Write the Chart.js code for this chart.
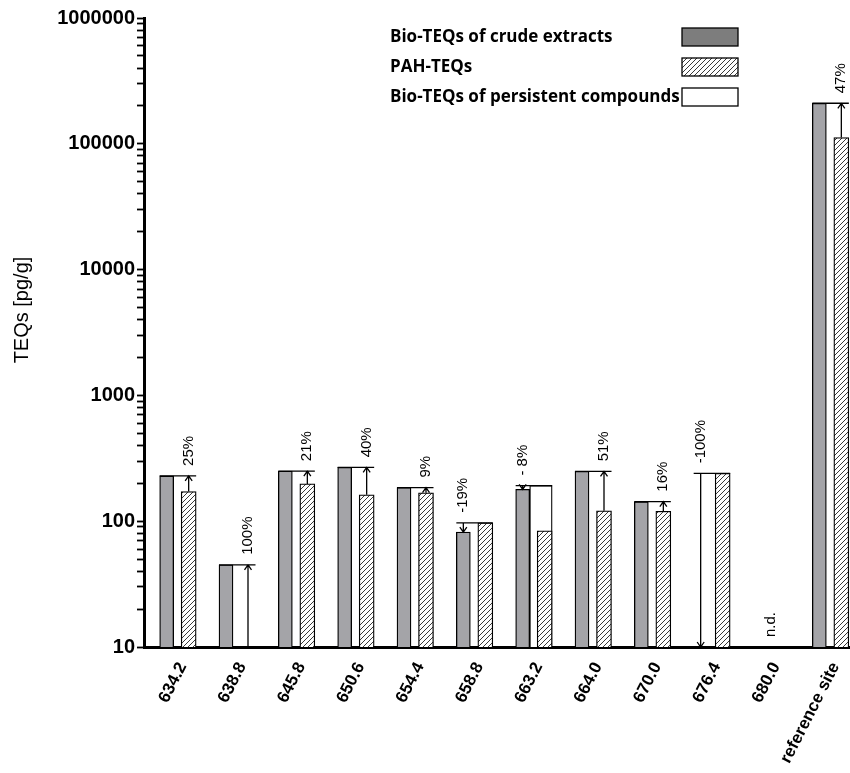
<!DOCTYPE html>
<html>
<head>
<meta charset="utf-8">
<script src="https://cdn.jsdelivr.net/npm/chart.js@4.4.1/dist/chart.umd.min.js"></script>
<style>
  html, body { margin: 0; padding: 0; background: #fff; overflow: hidden; }
  #wrap { width: 856px; height: 773px; }
</style>
</head>
<body>
<div id="wrap"><canvas id="teqChart" width="856" height="773"></canvas></div>
<script>
// sampling sites (river km) and the reference site
const sites = ["634.2", "638.8", "645.8", "650.6", "654.4", "658.8", "663.2", "664.0", "670.0", "676.4", "680.0", "reference site"];
// TEQs in pg/g
const crudeTEQs = [229, 45, 250, 268, 185, 82, 179, 249, 143, null, null, 210000];
const pahTEQs = [172, null, 198, 162, 168, 97, 84, 121, 120, 240, null, 112000];
const persistentTEQs = [null, null, null, null, null, null, 192, null, null, null, null, null];
const changeLabels = ["25%", "100%", "21%", "40%", "9%", "-19%", "- 8%", "51%", "16%", "-100%", null, "47%"];
const notes = [null, null, null, null, null, null, null, null, null, null, "n.d.", null];
const seriesNames = ["Bio-TEQs of crude extracts", "PAH-TEQs", "Bio-TEQs of persistent compounds"];
const yMajorTicks = [10, 100, 1000, 10000, 100000, 1000000];

// bar widths in px; the hatched bar sits flush with the right edge of the white one
const GRAY_PX = 14, WHITE_PX = 22.5, HATCH_PX = 15;
const slotPx = 712 / sites.length;
const grayShift = -GRAY_PX / 2 / slotPx;
const whiteShift = WHITE_PX / 2 / slotPx;
const hatchShift = (WHITE_PX - HATCH_PX / 2) / slotPx;

const atSite = (values, shift) => values.map((v, i) => ({ x: i + shift, y: v }));

function hatchPattern(ctx) {
  const c = document.createElement("canvas");
  c.width = 5; c.height = 5;
  const g = c.getContext("2d");
  g.fillStyle = "#fff";
  g.fillRect(0, 0, 5, 5);
  g.strokeStyle = "#222";
  g.lineWidth = 0.9;
  g.beginPath();
  g.moveTo(0, 5); g.lineTo(5, 0);
  g.moveTo(-1, 1); g.lineTo(1, -1);
  g.moveTo(4, 6); g.lineTo(6, 4);
  g.stroke();
  return ctx.createPattern(c, "repeat");
}

const canvas = document.getElementById("teqChart");
const ctx = canvas.getContext("2d");
const hatch = hatchPattern(ctx);

// bracket line, arrow and percentage over each site
const changeMarks = {
  id: "changeMarks",
  afterDatasetsDraw(chart) {
    const y = chart.scales.y;
    const grayMeta = chart.getDatasetMeta(0);
    const hatchMeta = chart.getDatasetMeta(2);
    const c = chart.ctx;
    c.save();
    c.strokeStyle = "#000";
    c.fillStyle = "#000";
    c.lineWidth = 1.3;
    c.font = "15px 'Liberation Sans', Arial, sans-serif";
    sites.forEach((s, i) => {
      const gx = grayMeta.data[i].x, hx = hatchMeta.data[i].x;
      const left = gx - GRAY_PX / 2, right = hx + HATCH_PX / 2;
      if (notes[i]) {
        c.save();
        c.translate((left + right) / 2, y.bottom - 10);
        c.rotate(-Math.PI / 2);
        c.textAlign = "left";
        c.textBaseline = "middle";
        c.fillText(notes[i], 0, 0);
        c.restore();
      }
      if (!changeLabels[i]) return;
      const crude = crudeTEQs[i] ?? y.min;
      const ref = persistentTEQs[i] ?? pahTEQs[i] ?? y.min;
      const ax = crude >= ref ? hx : gx;
      const yTop = y.getPixelForValue(Math.max(crude, ref));
      const yFrom = y.getPixelForValue(ref);
      const yTo = y.getPixelForValue(crude);
      const dir = yTo < yFrom ? 1 : -1;
      c.beginPath();
      c.moveTo(left, yTop); c.lineTo(right, yTop);
      c.moveTo(ax, yFrom); c.lineTo(ax, yTo);
      c.moveTo(ax - 3.5, yTo + 5 * dir); c.lineTo(ax, yTo); c.lineTo(ax + 3.5, yTo + 5 * dir);
      c.stroke();
      c.save();
      c.translate(ax, yTop - 10);
      c.rotate(-Math.PI / 2);
      c.textAlign = "left";
      c.textBaseline = "middle";
      c.fillText(changeLabels[i], 0, 0);
      c.restore();
    });
    c.restore();
  }
};

// legend (text left, swatch right) and the y axis title
const legendAndTitle = {
  id: "legendAndTitle",
  afterDraw(chart) {
    const c = chart.ctx;
    const swatches = ["#7d7d7d", hatch, "#fff"];
    const rows = [37, 67, 97];
    c.save();
    c.font = "bold 17px 'Open Sans', sans-serif";
    c.textBaseline = "middle";
    seriesNames.forEach((name, k) => {
      c.fillStyle = "#000";
      c.textAlign = "left";
      c.fillText(name, 390, rows[k]);
      c.fillStyle = swatches[k];
      c.fillRect(682, rows[k] - 9, 56, 18);
      c.strokeStyle = "#000";
      c.lineWidth = 1.3;
      c.strokeRect(682, rows[k] - 9, 56, 18);
    });
    c.translate(22, 310);
    c.rotate(-Math.PI / 2);
    c.fillStyle = "#000";
    c.textAlign = "center";
    c.font = "20px 'Liberation Sans', Arial, sans-serif";
    c.fillText("TEQs [pg/g]", 0, 0);
    c.restore();
  }
};

new Chart(ctx, {
  type: "bar",
  data: {
    datasets: [
      {
        label: seriesNames[0],
        data: atSite(crudeTEQs, grayShift),
        backgroundColor: "#a4a4a8",
        borderColor: "#000",
        borderWidth: 1.3,
        barThickness: GRAY_PX,
        grouped: false,
        order: 1,
      },
      {
        label: seriesNames[2],
        data: atSite(persistentTEQs, whiteShift),
        backgroundColor: "#fff",
        borderColor: "#000",
        borderWidth: 1.3,
        barThickness: WHITE_PX,
        grouped: false,
        order: 2,
      },
      {
        label: seriesNames[1],
        data: atSite(pahTEQs, hatchShift),
        backgroundColor: hatch,
        borderColor: "#000",
        borderWidth: 1.3,
        barThickness: HATCH_PX,
        grouped: false,
        order: 0,
      },
    ],
  },
  options: {
    responsive: false,
    animation: false,
    layout: { padding: { top: 18, left: 0, right: 0, bottom: 0 } },
    plugins: {
      legend: { display: false },
      tooltip: { enabled: false },
    },
    scales: {
      x: {
        type: "linear",
        offset: false,
        min: -0.5,
        max: sites.length - 0.5,
        bounds: "data",
        grid: { display: false, offset: false },
        border: { color: "#000", width: 3 },
        afterBuildTicks(scale) {
          scale.ticks = sites.map((s, i) => ({ value: i }));
        },
        ticks: {
          color: "#000",
          font: { family: "'Liberation Sans', Arial, sans-serif", size: 17, weight: "bold" },
          minRotation: 63,
          maxRotation: 63,
          autoSkip: false,
          labelOffset: 9,
          padding: 4,
          callback: (v) => sites[Math.round(v)],
        },
        afterFit(scale) { scale.height = 126; },
      },
      y: {
        type: "logarithmic",
        min: 10,
        max: 1000000,
        border: { color: "#000", width: 3 },
        grid: { drawOnChartArea: false, color: "#000", tickLength: 7, tickWidth: 1.8 },
        afterBuildTicks(scale) {
          const ticks = [];
          yMajorTicks.forEach((v, k) => {
            ticks.push({ value: v });
            if (k < yMajorTicks.length - 1) {
              for (let m = 2; m <= 9; m++) ticks.push({ value: v * m });
            }
          });
          scale.ticks = ticks;
        },
        ticks: {
          color: "#000",
          autoSkip: false,
          padding: 2,
          font: { family: "'Liberation Sans', Arial, sans-serif", size: 20, weight: "bold" },
          callback: (v) => (yMajorTicks.includes(v) ? String(v) : ""),
        },
        afterFit(scale) { scale.width = 144; },
      },
    },
  },
  plugins: [changeMarks, legendAndTitle],
});
</script>
</body>
</html>
